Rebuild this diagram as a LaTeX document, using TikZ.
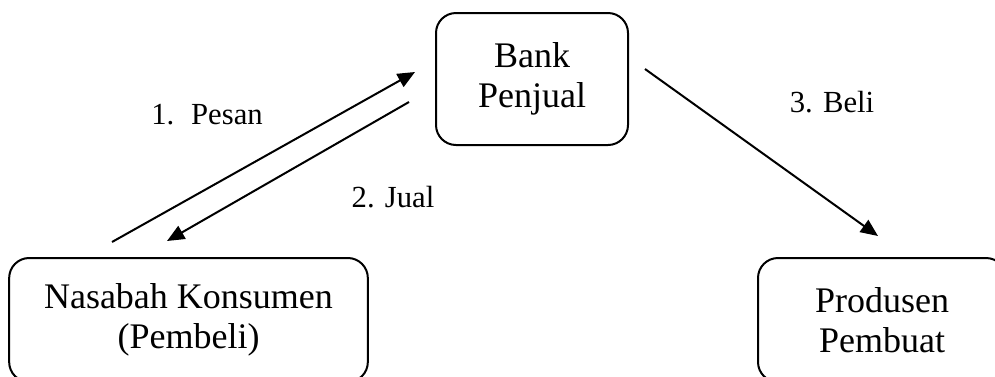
\documentclass[tikz,border=0pt]{standalone}
\usepackage{fontspec}
\setmainfont{Liberation Serif}
\usetikzlibrary{arrows.meta}
\begin{document}
\begin{tikzpicture}[x=0.75pt,y=-0.75pt,
  party/.style={draw=black,line width=1.5pt,rounded corners=15pt,align=center,
    inner sep=0pt,font=\fontsize{27}{30}\selectfont},
  flow/.style={line width=1.5pt,-{Triangle[length=13pt,width=11pt]}},
  steplabel/.style={font=\fontsize{23}{26}\selectfont,inner sep=0pt}]
  \useasboundingbox (0,0) rectangle (995,376);
  \clip (0,0) rectangle (995,376);
  % parties
  \node[party,minimum width=144pt,minimum height=99pt] (bank) at (532,79)
    {\fontsize{27}{33}\selectfont Bank\\Penjual};
  \node[party,minimum width=269pt,minimum height=93pt] (nasabah) at (188.5,320)
    {Nasabah Konsumen\\(Pembeli)};
  \node[party,minimum width=186pt,minimum height=93pt] (produsen) at (882,320)
    {Produsen\\Pembuat};
  % free ends of the transaction arrows
  \coordinate (pesanA) at (112,242);
  \coordinate (pesanB) at (415,72);
  \coordinate (jualA) at (409,102);
  \coordinate (jualB) at (167,241);
  \coordinate (beliA) at (645,69);
  \coordinate (beliB) at (878,236);
  \draw[flow] (pesanA) -- (pesanB);
  \draw[flow] (jualA) -- (jualB);
  \draw[flow] (beliA) -- (beliB);
  % step labels
  \node[steplabel] (lpesan) at (207,115) {1.\hspace{0.55em}Pesan};
  \node[steplabel] (ljual) at (393,197) {2. Jual};
  \node[steplabel] (lbeli) at (832,102) {3. Beli};
\end{tikzpicture}
\end{document}
